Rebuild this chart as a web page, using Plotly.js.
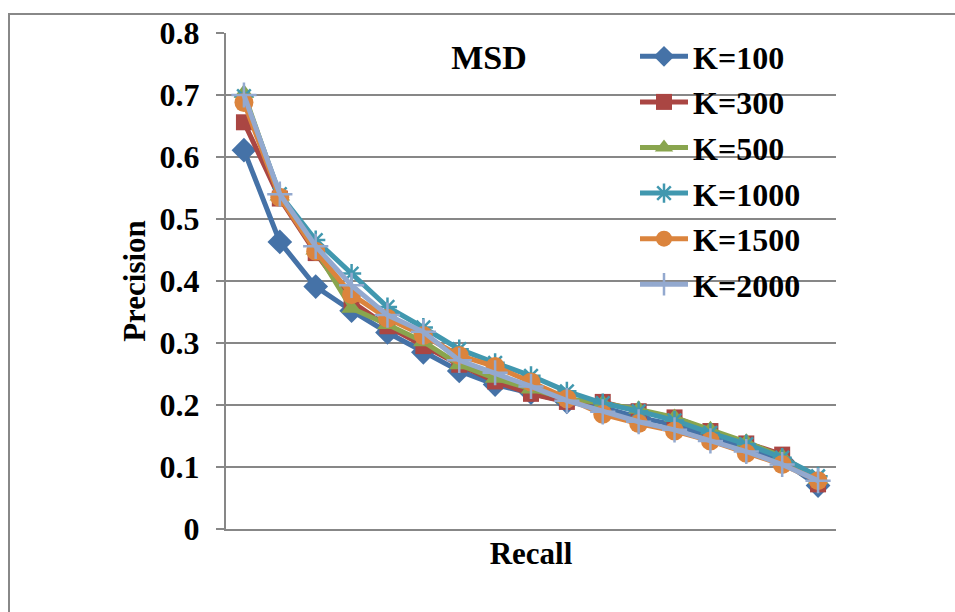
<!DOCTYPE html>
<html>
<head>
<meta charset="utf-8">
<script src="https://cdn.plot.ly/plotly-3.0.1.min.js"></script>
<style>html,body{margin:0;padding:0;background:#fff;}#chart{width:955px;height:612px;}</style>
</head>
<body>
<div id="chart"></div>
<script>
// Recall levels (category positions, labels hidden in the original)
const recallLevels = ["1","2","3","4","5","6","7","8","9","10","11","12","13","14","15","16","17"];
const seriesNames = ["K=100","K=300","K=500","K=1000","K=1500","K=2000"];
const k100  = [0.611,0.463,0.391,0.352,0.317,0.285,0.255,0.233,0.220,0.205,0.196,0.180,0.168,0.150,0.130,0.110,0.070];
const k300  = [0.656,0.533,0.445,0.367,0.327,0.295,0.265,0.238,0.218,0.205,0.205,0.190,0.180,0.158,0.138,0.120,0.072];
const k500  = [0.703,0.537,0.450,0.356,0.330,0.302,0.265,0.243,0.226,0.210,0.203,0.193,0.180,0.160,0.140,0.117,0.080];
const k1000 = [0.698,0.540,0.466,0.412,0.358,0.325,0.290,0.268,0.247,0.222,0.203,0.190,0.175,0.155,0.137,0.115,0.085];
const k1500 = [0.688,0.535,0.448,0.378,0.340,0.312,0.280,0.262,0.237,0.210,0.185,0.170,0.158,0.142,0.122,0.104,0.078];
const k2000 = [0.700,0.540,0.456,0.393,0.345,0.318,0.272,0.252,0.230,0.207,0.189,0.173,0.160,0.142,0.125,0.104,0.078];
const yTickVals = [0,0.1,0.2,0.3,0.4,0.5,0.6,0.7,0.8];
const yTickText = ["0","0.1","0.2","0.3","0.4","0.5","0.6","0.7","0.8"];

const values = [k100,k300,k500,k1000,k1500,k2000];
const colors = ["#4572A7","#AA4643","#89A54E","#4198AF","#DB843D","#93A9CF"];
const symbols = ["diamond","square","triangle-up","asterisk-open","circle","cross-thin-open"];
const sizes = [19,16,18,16,19,18];

const font = "Liberation Serif, Times New Roman, serif";

const traces = values.map((v,i) => ({
  type: "scatter",
  mode: "lines+markers",
  name: seriesNames[i],
  legendgroup: "g" + i,
  x: recallLevels,
  y: v,
  line: {color: colors[i], width: 5},
  marker: {
    symbol: symbols[i],
    size: sizes[i],
    color: colors[i],
    line: {color: colors[i], width: (i===3||i===5) ? 2.5 : 0}
  }
}));

const W = 610, H = 496, L = 226, T = 33;
function px(x){ return (x - L)/W; }
function py(y){ return (T + H - y)/H; }

const layout = {
  width: 955, height: 612,
  margin: {l: L, r: 955 - L - W, t: T, b: 612 - T - H},
  paper_bgcolor: "#ffffff",
  plot_bgcolor: "#ffffff",
  showlegend: true,
  title: {
    text: "MSD",
    font: {family: font, size: 34, color: "#000", weight: "bold"},
    xref: "paper",
    x: px(489), xanchor: "center",
    y: 1 - 57/612, yanchor: "middle"
  },
  xaxis: {
    type: "category",
    range: [-0.5, 16.5],
    showticklabels: false,
    ticks: "",
    showgrid: false,
    showline: true,
    linecolor: "#878787",
    linewidth: 2,
    zeroline: false,
    fixedrange: true,
    title: {text: "Recall", font: {family: font, size: 31, color: "#000", weight: "bold"}, standoff: 12}
  },
  yaxis: {
    range: [0, 0.8],
    tickvals: yTickVals,
    ticktext: yTickText,
    ticks: "outside",
    ticklen: 8,
    tickwidth: 2,
    tickcolor: "#878787",
    ticklabelstandoff: 10,
    showgrid: true,
    gridcolor: "#878787",
    gridwidth: 2,
    showline: true,
    linecolor: "#878787",
    linewidth: 2,
    zeroline: false,
    tickfont: {family: font, size: 32, color: "#000", weight: "bold"},
    title: {text: "Precision", font: {family: font, size: 31, color: "#000", weight: "bold"}, standoff: 5}
  },
  legend: {
    x: px(635), xanchor: "left",
    y: py(29), yanchor: "top",
    bgcolor: "rgba(0,0,0,0)",
    borderwidth: 0,
    font: {family: font, size: 32, color: "#000", weight: "bold"},
    tracegroupgap: 1,
    itemwidth: 48
  },
  shapes: [{
    type: "rect", xref: "paper", yref: "paper",
    x0: px(9), x1: px(1000), y0: py(700), y1: py(14),
    line: {color: "#888888", width: 2},
    fillcolor: "rgba(0,0,0,0)",
    layer: "below"
  }]
};

Plotly.newPlot("chart", traces, layout, {displayModeBar: false, staticPlot: true});
</script>
</body>
</html>
